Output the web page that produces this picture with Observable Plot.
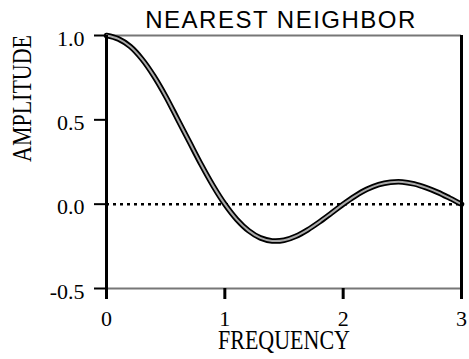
<!DOCTYPE html>
<html>
<head>
<meta charset="utf-8">
<script src="https://cdn.jsdelivr.net/npm/d3@7"></script>
<script src="https://cdn.jsdelivr.net/npm/@observablehq/plot@0.6"></script>
<style>body{margin:0;background:#fff;}</style>
</head>
<body>
<div id="chart"></div>
<script>
const frequency = [0,0.1,0.2,0.3,0.4,0.5,0.6,0.7,0.8,0.9,1.0,1.1,1.2,1.3,1.4,1.5,1.6,1.7,1.8,1.9,2.0,2.1,2.2,2.3,2.4,2.5,2.6,2.7,2.8,2.9,3.0];
const amplitude = [1.00,0.98,0.935,0.86,0.76,0.64,0.505,0.37,0.235,0.11,0.0,-0.09,-0.157,-0.2,-0.218,-0.214,-0.19,-0.152,-0.105,-0.053,0.0,0.048,0.088,0.116,0.13,0.132,0.12,0.098,0.07,0.036,0.0];
const yTicks = [-0.5, 0, 0.5, 1.0];
const xTicks = [0, 1, 2, 3];
const title = "NEAREST NEIGHBOR";
const xLabel = "FREQUENCY";
const yLabel = "AMPLITUDE";

const data = frequency.map((f, i) => ({f, a: amplitude[i]}));

const chart = Plot.plot({
  width: 469, height: 359,
  marginLeft: 106, marginRight: 8, marginTop: 35, marginBottom: 71,
  x: {domain: [0, 3]},
  y: {domain: [-0.5, 1]},
  style: {fontFamily: "Liberation Serif", fontSize: "22px", background: "white", color: "black"},
  marks: [
    Plot.ruleY([1, -0.5], {stroke: "#777", strokeWidth: 2}),
    Plot.ruleY([0], {stroke: "black", strokeDasharray: "3,4", strokeWidth: 2.5}),
    Plot.line(data, {x: "f", y: "a", stroke: "black", strokeWidth: 5.5, curve: "catmull-rom"}),
    Plot.line(data, {x: "f", y: "a", stroke: "#aaa", strokeWidth: 2, curve: "catmull-rom"}),
    Plot.ruleX([0, 3], {stroke: "black", strokeWidth: 3}),
    Plot.axisY(yTicks, {tickSize: 12, tickFormat: () => "", label: null, strokeWidth: 2}),
    Plot.axisY(yTicks, {tickSize: 0, tickPadding: 22, dy: 3, tickFormat: d => d.toFixed(1), label: null, fontSize: 22}),
    Plot.axisX(xTicks, {tickSize: 11, tickPadding: 11, tickFormat: d => String(d), label: null, strokeWidth: 3, fontSize: 22}),
    Plot.text([title], {frameAnchor: "top", lineAnchor: "bottom", dy: -8, dx: -3, fontFamily: "Liberation Sans", fontSize: 24}),
    Plot.text([yLabel], {frameAnchor: "left", rotate: -90, dx: -84, fontSize: 22}),
    Plot.text([xLabel], {frameAnchor: "bottom", lineAnchor: "bottom", dy: 60, fontSize: 22})
  ]
});
document.getElementById("chart").append(chart);

// condensed look for axis titles and spacing of the title
d3.select(chart).selectAll("text").each(function() {
  const t = this.textContent;
  if (t === xLabel || t === yLabel) {
    const tr = this.getAttribute("transform") || "";
    this.setAttribute("transform", tr + " scale(1,1.2)");
  } else if (t === title) {
    this.style.letterSpacing = "1.5px";
  }
});
</script>
</body>
</html>
